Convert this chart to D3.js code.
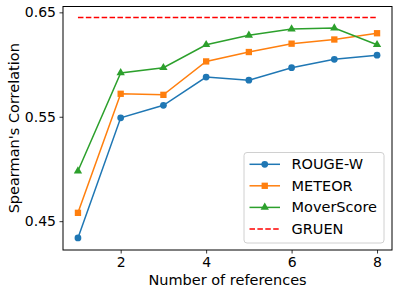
<!DOCTYPE html>
<html>
<head>
<meta charset="utf-8">
<script src="https://cdn.jsdelivr.net/npm/d3@7"></script>
<style>
  body { margin: 0; background: #fff; }
  text { font-family: "DejaVu Sans", sans-serif; fill: #000; }
</style>
</head>
<body>
<div id="chart"></div>
<script>
const refs = [1, 2, 3, 4, 5, 6, 7, 8];
const rougeW = [0.434, 0.549, 0.561, 0.588, 0.585, 0.597, 0.605, 0.609];
const meteor = [0.458, 0.572, 0.571, 0.603, 0.612, 0.620, 0.624, 0.630];
const moverScore = [0.498, 0.592, 0.597, 0.619, 0.628, 0.634, 0.635, 0.619];
const gruen = [0.645, 0.645];
const yTicks = [0.45, 0.55, 0.65];
const xTicks = [2, 4, 6, 8];

const width = 398, height = 296;
const margin = {top: 6.5, right: 6, bottom: 46, left: 63};

const svg = d3.select("#chart").append("svg")
  .attr("width", width)
  .attr("height", height);

const x = d3.scaleLinear().domain([0.65, 8.35]).range([margin.left, width - margin.right]);
const y = d3.scaleLinear().domain([0.4224, 0.6556]).range([height - margin.bottom, margin.top]);

// axes
const xAxis = svg.append("g")
  .attr("transform", `translate(0,${height - margin.bottom})`)
  .call(d3.axisBottom(x).tickValues(xTicks).tickFormat(d3.format("d")).tickSize(3.5).tickPadding(3.5));
const yAxis = svg.append("g")
  .attr("transform", `translate(${margin.left},0)`)
  .call(d3.axisLeft(y).tickValues(yTicks).tickFormat(d3.format(".2f")).tickSize(3.5).tickPadding(3.5));
[xAxis, yAxis].forEach(g => {
  g.select(".domain").remove();
  g.selectAll("line").attr("stroke", "#000").attr("stroke-width", 0.8);
  g.selectAll("text").style("font-size", "14px");
});

// frame
svg.append("rect")
  .attr("x", margin.left).attr("y", margin.top)
  .attr("width", width - margin.left - margin.right)
  .attr("height", height - margin.top - margin.bottom)
  .attr("fill", "none").attr("stroke", "#000").attr("stroke-width", 1);

const line = d3.line().x((d, i) => x(refs[i])).y(d => y(d));

const series = [
  {name: "ROUGE-W", values: rougeW, color: "#1f77b4", marker: d3.symbolCircle, size: 36},
  {name: "METEOR", values: meteor, color: "#ff7f0e", marker: d3.symbolSquare, size: 40},
  {name: "MoverScore", values: moverScore, color: "#2ca02c", marker: d3.symbolTriangle, size: 30}
];

series.forEach(s => {
  svg.append("path")
    .attr("d", line(s.values))
    .attr("fill", "none")
    .attr("stroke", s.color)
    .attr("stroke-width", 1.5);
  svg.selectAll(null).data(s.values).enter().append("path")
    .attr("d", d3.symbol().type(s.marker).size(s.size))
    .attr("transform", (d, i) => `translate(${x(refs[i])},${y(d)})`)
    .attr("fill", s.color);
});

// GRUEN reference line
svg.append("line")
  .attr("x1", x(refs[0])).attr("x2", x(refs[refs.length - 1]))
  .attr("y1", y(gruen[0])).attr("y2", y(gruen[1]))
  .attr("stroke", "#ff0000").attr("stroke-width", 1.5)
  .attr("stroke-dasharray", "5.5,2.4");

// legend
const legend = svg.append("g");
legend.append("rect")
  .attr("x", 244).attr("y", 152.5)
  .attr("width", 140).attr("height", 90.5)
  .attr("rx", 3)
  .attr("fill", "#fff").attr("fill-opacity", 0.8)
  .attr("stroke", "#d0d0d0").attr("stroke-width", 1);

const legendItems = series.concat([{name: "GRUEN", color: "#ff0000", dashed: true}]);
const legendY = [164.3, 185.8, 207.4, 229];
legendItems.forEach((s, i) => {
  const ly = legendY[i];
  legend.append("line")
    .attr("x1", 249.5).attr("x2", 280).attr("y1", ly).attr("y2", ly)
    .attr("stroke", s.color).attr("stroke-width", 1.5)
    .attr("stroke-dasharray", s.dashed ? "5.5,2.4" : null);
  if (s.marker) {
    legend.append("path")
      .attr("d", d3.symbol().type(s.marker).size(s.size))
      .attr("transform", `translate(264.75,${ly})`)
      .attr("fill", s.color);
  }
  legend.append("text")
    .attr("x", 291.5).attr("y", ly + 5)
    .style("font-size", "14.5px")
    .text(s.name);
});

// axis labels
svg.append("text")
  .attr("x", (margin.left + width - margin.right) / 2)
  .attr("y", 285)
  .attr("text-anchor", "middle")
  .style("font-size", "14.5px")
  .text("Number of references");

svg.append("text")
  .attr("transform", `translate(19,${(margin.top + height - margin.bottom) / 2}) rotate(-90)`)
  .attr("text-anchor", "middle")
  .style("font-size", "14.5px")
  .text("Spearman's Correlation");
</script>
</body>
</html>
